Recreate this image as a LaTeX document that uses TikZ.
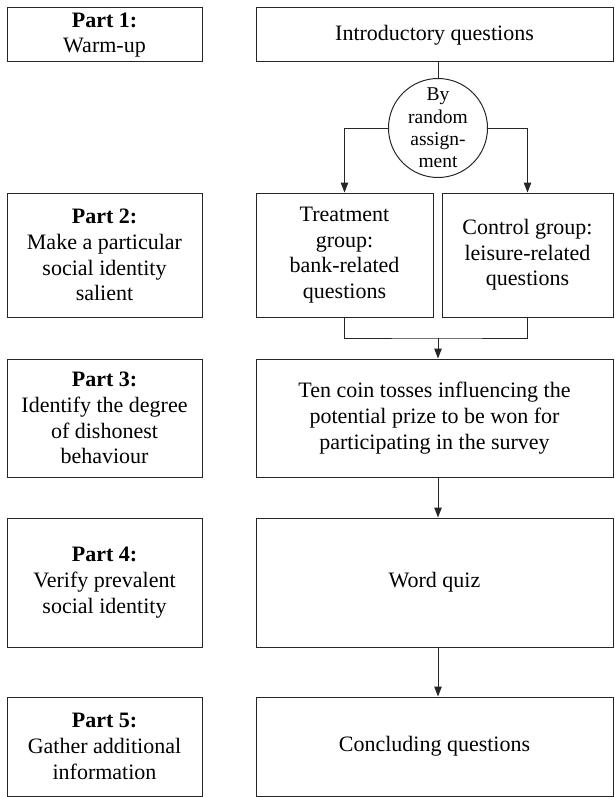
\documentclass[tikz,border=0pt]{standalone}
\usepackage{fontspec}
\setmainfont{Liberation Serif}
\usetikzlibrary{arrows.meta, shapes.geometric}

\tikzset{
  flow/.style={draw=black!85, line width=1pt},
  box/.style={flow, align=center, inner sep=2pt,
    font=\fontsize{22}{25.7}\selectfont},
  partbox/.style={box, minimum width=195},
  arr/.style={flow, -{Triangle[length=10pt, width=7.5pt]}}
}

\begin{document}
\begin{tikzpicture}[x=1pt, y=-1pt]
\useasboundingbox (0,0) rectangle (614,797);

% parts of the survey
\node[partbox, minimum height=54] (p1) at (104.5,35) {\textbf{Part 1:}\\Warm-up};
\node[partbox, minimum height=124] (p2) at (104.5,255)
	{\textbf{Part 2:}\\Make a particular\\social identity\\salient};
\node[partbox, minimum height=118] (p3) at (104.5,418)
	{\textbf{Part 3:}\\Identify the degree\\of dishonest\\behaviour};
\node[partbox, minimum height=129] (p4) at (104.5,582.5)
	{\textbf{Part 4:}\\Verify prevalent\\social identity};
\node[partbox, minimum height=99] (p5) at (104.5,746.5)
	{\textbf{Part 5:}\\Gather additional\\information};

% what the respondents see
\node[box, minimum width=357, minimum height=54] (intro) at (434.5,35) {Introductory questions};
\node[flow, circle, minimum size=99, inner sep=0] (rand) at (438,128) {};
\node[align=center, font=\fontsize{19.5}{22.3}\selectfont] (randtext) at (rand)
	{By\\random\\assign-\\ment};
\node[box, minimum width=177, minimum height=124] (treat) at (344.5,255)
	{Treatment\\group:\\bank-related\\questions};
\node[box, minimum width=171, minimum height=124] (ctrl) at (527.5,255)
	{Control group:\\leisure-related\\questions};
\node[box, minimum width=357, minimum height=118] (coin) at (434.5,418)
	{Ten coin tosses influencing the\\potential prize to be won for\\participating in the survey};
\node[box, minimum width=357, minimum height=129] (quiz) at (434.5,582.5) {Word quiz};
\node[box, minimum width=357, minimum height=99] (concl) at (434.5,746.5) {Concluding questions};

% connectors
\coordinate (merge) at (438,338);
\draw[flow] (rand.north |- intro.south) -- (rand.north);
\draw[arr] (rand.west) -| (treat.north);
\draw[arr] (rand.east) -| (ctrl.north);
\draw[flow] (treat.south) |- (merge) -| (ctrl.south);
\draw[arr] (merge) -- (merge |- coin.north);
\draw[arr] (merge |- coin.south) -- (merge |- quiz.north);
\draw[arr] (merge |- quiz.south) -- (merge |- concl.north);

\end{tikzpicture}
\end{document}
